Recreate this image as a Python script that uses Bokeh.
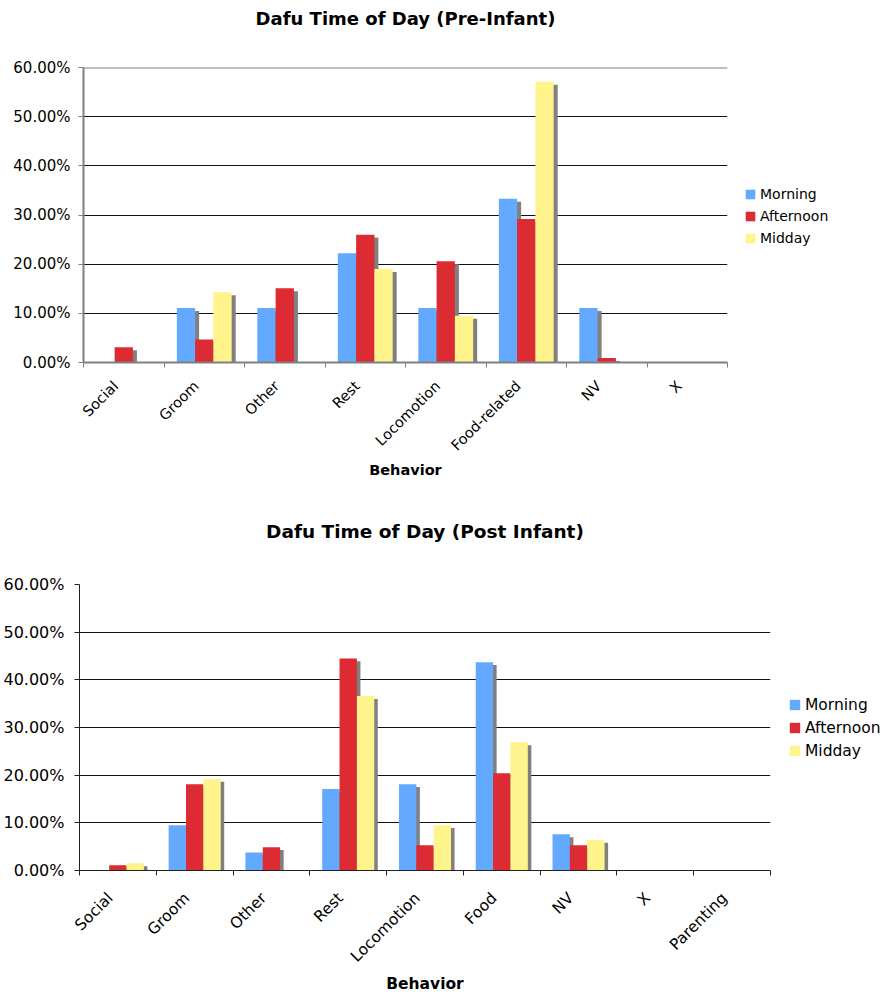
import math
from bokeh.plotting import figure
from bokeh.models import (ColumnDataSource, FixedTicker, NumeralTickFormatter, Range1d,
                          Legend, LegendItem, Span, Title, LinearAxis)
from bokeh.embed import file_html
from bokeh.resources import INLINE
from bokeh.transform import dodge

# ---------------- data (percent) ----------------
pre_categories = ["Social", "Groom", "Other", "Rest", "Locomotion", "Food-related", "NV", "X"]
pre_morning = [0.0, 11.1, 11.1, 22.2, 11.1, 33.3, 11.1, 0.0]
pre_afternoon = [3.1, 4.7, 15.1, 26.0, 20.6, 29.2, 0.9, 0.0]
pre_midday = [0.0, 14.3, 0.0, 19.0, 9.5, 57.1, 0.0, 0.0]

post_categories = ["Social", "Groom", "Other", "Rest", "Locomotion", "Food", "NV", "X", "Parenting"]
post_morning = [0.0, 9.5, 3.8, 17.1, 18.1, 43.7, 7.6, 0.0, 0.0]
post_afternoon = [1.1, 18.1, 4.9, 44.5, 5.3, 20.4, 5.3, 0.0, 0.0]
post_midday = [1.5, 19.2, 0.0, 36.6, 9.5, 26.9, 6.4, 0.0, 0.0]

series_names = ["Morning", "Afternoon", "Midday"]
y_ticks = [0.0, 0.1, 0.2, 0.3, 0.4, 0.5, 0.6]

colors = ["#63a9ff", "#dc2b32", "#fff38b"]
FONT = "DejaVu Sans"


def build(title_text, cats, morning, afternoon, midday, cfg):
    n = len(cats)
    data = dict(x=list(range(n)))
    for name, v in zip(series_names, [morning, afternoon, midday]):
        data[name] = [a / 100 for a in v]
        data[name + "_sh"] = [max(a / 100 - cfg["sh_drop"], 0) for a in v]
    src = ColumnDataSource(data)

    p = figure(frame_width=cfg["fw"], frame_height=cfg["fh"],
               output_backend="svg", toolbar_location=None,
               title=None,
               x_range=Range1d(-0.5, n - 0.5), y_range=Range1d(0, 0.6),
               min_border_left=cfg["bl"], min_border_right=cfg["br"],
               min_border_top=cfg["bt"], min_border_bottom=cfg["bb"])
    p.outline_line_color = None
    p.background_fill_color = "white"
    p.border_fill_color = "white"

    bw = cfg["bw"]
    offs = [-bw, 0.0, bw]
    for name, o in zip(series_names, offs):
        p.vbar(x=dodge("x", o + cfg["sh_dx"]), top=name + "_sh", width=bw, source=src,
               fill_color="#808080", line_color=None)
    rends = []
    for name, o, c in zip(series_names, offs, colors):
        r = p.vbar(x=dodge("x", o), top=name, width=bw, source=src,
                   fill_color=c, line_color=None)
        rends.append(r)

    # x axis (the one below)
    xa = p.below[0]
    lab_ticks = [i - cfg["lab_shift"] for i in range(n)]
    xa.ticker = FixedTicker(ticks=lab_ticks,
                            minor_ticks=[i - 0.5 for i in range(n + 1)])
    xa.major_label_overrides = {t: c for t, c in zip(lab_ticks, cats)}
    xa.major_label_orientation = math.pi / 4
    xa.major_tick_out = 0
    xa.major_tick_in = 0
    xa.major_tick_line_color = None
    xa.minor_tick_out = 5
    xa.minor_tick_in = 0
    xa.minor_tick_line_color = cfg["axis_color"]
    xa.axis_line_color = cfg["axis_color"]
    xa.axis_line_width = cfg["axis_w"]
    xa.major_label_text_font = FONT
    xa.major_label_text_font_size = cfg["tick_fs"]
    xa.major_label_text_color = "black"
    xa.major_label_standoff = cfg["lab_standoff"]
    xa.axis_label = "Behavior"
    xa.axis_label_text_font = FONT
    xa.axis_label_text_font_style = "bold"
    xa.axis_label_text_font_size = cfg["axlabel_fs"]
    xa.axis_label_text_color = "black"
    xa.axis_label_standoff = cfg["axlabel_standoff"]

    # y axis
    ya = p.left[0]
    ya.ticker = FixedTicker(ticks=y_ticks, minor_ticks=[])
    ya.formatter = NumeralTickFormatter(format="0.00%")
    ya.major_tick_out = 5
    ya.major_tick_in = 0
    ya.major_tick_line_color = cfg["axis_color"]
    ya.minor_tick_line_color = None
    ya.axis_line_color = cfg["axis_color"]
    ya.axis_line_width = cfg["axis_w"]
    ya.major_label_text_font = FONT
    ya.major_label_text_font_size = cfg["ytick_fs"]
    ya.major_label_text_color = "black"
    ya.major_label_standoff = cfg["ylab_standoff"]

    # invisible spacer between frame and title (white tick at the top-right corner)
    corner = n - 0.5
    spacer = LinearAxis(ticker=FixedTicker(ticks=[corner], minor_ticks=[]),
                        axis_line_color=None,
                        major_tick_line_color="white", minor_tick_line_color=None,
                        major_tick_out=cfg["title_gap"], major_tick_in=0,
                        minor_tick_out=0, major_label_standoff=0,
                        major_label_overrides={corner: ""})
    p.add_layout(spacer, "above")
    p.add_layout(Title(text=title_text, align="center", text_font=FONT,
                       text_font_size=cfg["title_fs"], text_font_style="bold",
                       text_color="black", standoff=0), "above")

    p.xgrid.grid_line_color = None
    p.ygrid.ticker = FixedTicker(ticks=y_ticks)
    p.ygrid.grid_line_color = "#111111"
    p.ygrid.grid_line_width = 1

    if cfg.get("top_span"):
        p.add_layout(Span(location=0.6, dimension="width", line_color="#808080", line_width=2))

    legend = Legend(items=[LegendItem(label=nm, renderers=[r]) for nm, r in zip(series_names, rends)],
                    location=cfg["leg_loc"], padding=0, margin=0, spacing=cfg["leg_spacing"],
                    glyph_width=cfg["leg_glyph"], glyph_height=cfg["leg_glyph"],
                    label_height=cfg["leg_label_h"], label_standoff=4,
                    label_text_font=FONT, label_text_font_size=cfg["leg_fs"],
                    label_text_color="black",
                    border_line_color=None, background_fill_alpha=0)
    p.add_layout(legend, "right")
    return p


top_cfg = dict(fw=644, fh=295, bl=83, br=159, bt=67, bb=134, bw=0.227, sh_dx=0.05, sh_drop=0.006,
               title_fs="18px", title_gap=39, axis_color="#808080", axis_w=2,
               tick_fs="14.5px", ytick_fs="15px", ylab_standoff=8,
               axlabel_fs="14.5px", axlabel_standoff=0,
               lab_shift=0.1, lab_standoff=16,
               top_span=True, leg_loc=(17, 114), leg_spacing=2, leg_glyph=12, leg_label_h=20,
               leg_fs="14px")
bot_cfg = dict(fw=691, fh=286, bl=79, br=116, bt=88, bb=122, bw=0.226, sh_dx=0.046, sh_drop=0.006,
               title_fs="18.5px", title_gap=43, axis_color="#222222", axis_w=1,
               tick_fs="15.5px", ytick_fs="16px", ylab_standoff=10,
               axlabel_fs="15.5px", axlabel_standoff=0,
               lab_shift=0.1, lab_standoff=20,
               top_span=False, leg_loc=(18, 109), leg_spacing=2, leg_glyph=13, leg_label_h=21,
               leg_fs="15.5px")

p1 = build("Dafu Time of Day (Pre-Infant)", pre_categories, pre_morning, pre_afternoon, pre_midday, top_cfg)
p2 = build("Dafu Time of Day (Post Infant)", post_categories, post_morning, post_afternoon, post_midday, bot_cfg)

open("out.html", "w").write(file_html([p1, p2], INLINE))
